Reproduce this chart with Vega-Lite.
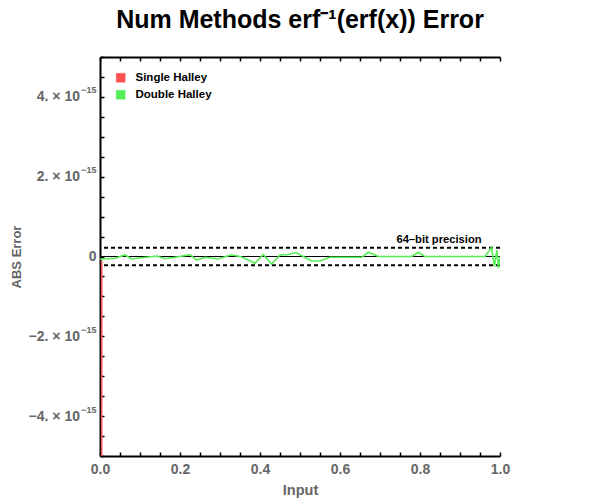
{
  "$schema": "https://vega.github.io/schema/vega-lite/v6.json",
  "width": 400,
  "height": 399,
  "autosize": "none",
  "padding": {"left": 100, "top": 57, "right": 100, "bottom": 44},
  "background": "white",
  "title": {
    "text": "Num Methods erf⁻¹(erf(x)) Error",
    "font": "Liberation Sans",
    "fontSize": 25,
    "fontWeight": "bold",
    "color": "black",
    "anchor": "middle",
    "offset": 17
  },
  "config": {
    "view": {"stroke": null},
    "axis": {
      "domainColor": "black",
      "domainWidth": 2,
      "tickColor": "black",
      "tickWidth": 1.5,
      "tickSize": -4,
      "grid": false,
      "labelFont": "Liberation Sans",
      "labelFontWeight": "bold",
      "labelFontSize": 14,
      "labelColor": "#666666",
      "labelOverlap": false,
      "labelFlush": false,
      "titleFont": "Liberation Sans",
      "titleFontWeight": "bold",
      "titleFontSize": 14,
      "titleColor": "#666666"
    }
  },
  "datasets": {
    "errors": [
      {"series": "Single Halley", "x": 0.0035, "y": -1e-13},
      {"series": "Single Halley", "x": 0.0042, "y": -1.2e-16},
      {"series": "Double Halley", "x": 0.0, "y": -7e-17},
      {"series": "Double Halley", "x": 0.0375, "y": -4.5e-17},
      {"series": "Double Halley", "x": 0.0625, "y": 3.8e-17},
      {"series": "Double Halley", "x": 0.079, "y": -6.3e-17},
      {"series": "Double Halley", "x": 0.104, "y": -3e-17},
      {"series": "Double Halley", "x": 0.142, "y": 1.3e-17},
      {"series": "Double Halley", "x": 0.1625, "y": -5.5e-17},
      {"series": "Double Halley", "x": 0.1875, "y": -2e-17},
      {"series": "Double Halley", "x": 0.225, "y": 4.5e-17},
      {"series": "Double Halley", "x": 0.242, "y": -8.8e-17},
      {"series": "Double Halley", "x": 0.2625, "y": -2e-17},
      {"series": "Double Halley", "x": 0.295, "y": -6.3e-17},
      {"series": "Double Halley", "x": 0.329, "y": 4.5e-17},
      {"series": "Double Halley", "x": 0.354, "y": -1.3e-17},
      {"series": "Double Halley", "x": 0.3875, "y": -1.71e-16},
      {"series": "Double Halley", "x": 0.408, "y": 5e-17},
      {"series": "Double Halley", "x": 0.429, "y": -1.89e-16},
      {"series": "Double Halley", "x": 0.45, "y": 3.8e-17},
      {"series": "Double Halley", "x": 0.471, "y": 5e-17},
      {"series": "Double Halley", "x": 0.49, "y": 1e-16},
      {"series": "Double Halley", "x": 0.529, "y": -1.13e-16},
      {"series": "Double Halley", "x": 0.55, "y": -1.13e-16},
      {"series": "Double Halley", "x": 0.575, "y": -2e-17},
      {"series": "Double Halley", "x": 0.654, "y": -2e-17},
      {"series": "Double Halley", "x": 0.671, "y": 1.06e-16},
      {"series": "Double Halley", "x": 0.696, "y": 0},
      {"series": "Double Halley", "x": 0.779, "y": 0},
      {"series": "Double Halley", "x": 0.796, "y": 1.06e-16},
      {"series": "Double Halley", "x": 0.8125, "y": 0},
      {"series": "Double Halley", "x": 0.9625, "y": 0},
      {"series": "Double Halley", "x": 0.979, "y": 2.3e-16},
      {"series": "Double Halley", "x": 0.986, "y": -2.57e-16},
      {"series": "Double Halley", "x": 0.992, "y": 1.6e-16},
      {"series": "Double Halley", "x": 0.996, "y": -2.9e-16},
      {"series": "Double Halley", "x": 1.0, "y": 0}
    ],
    "precision": [
      {"level": 2.22e-16},
      {"level": -2.22e-16}
    ],
    "zero": [
      {"level": 0}
    ],
    "annotation": [
      {"label": "64–bit precision"}
    ]
  },
  "layer": [
    {
      "layer": [
        {
          "data": {"name": "precision"},
          "mark": {"type": "rule", "color": "black", "strokeWidth": 2, "strokeDash": [4, 3]},
          "encoding": {
            "y": {
              "field": "level",
              "type": "quantitative",
              "scale": {"domain": [-5e-15, 5e-15], "nice": false, "zero": false},
              "axis": {
                "orient": "right",
                "values": [-5e-15, -4.5e-15, -4e-15, -3.5e-15, -3e-15, -2.5e-15, -2e-15, -1.5e-15, -1e-15, -5e-16, 0, 5e-16, 1e-15, 1.5e-15, 2e-15, 2.5e-15, 3e-15, 3.5e-15, 4e-15, 4.5e-15, 5e-15],
                "labels": false,
                "title": null
              }
            }
          }
        },
        {
          "data": {"name": "annotation"},
          "mark": {"type": "text", "font": "Liberation Sans", "fontWeight": "bold", "fontSize": 11.2, "color": "black", "align": "center", "baseline": "alphabetic"},
          "encoding": {
            "text": {"field": "label", "type": "nominal"},
            "x": {
              "datum": 0.8475,
              "type": "quantitative",
              "scale": {"domain": [0, 1], "nice": false, "zero": false},
              "axis": {
                "orient": "top",
                "values": [0, 0.05, 0.1, 0.15, 0.2, 0.25, 0.3, 0.35, 0.4, 0.45, 0.5, 0.55, 0.6, 0.65, 0.7, 0.75, 0.8, 0.85, 0.9, 0.95, 1],
                "labels": false,
                "title": null
              }
            },
            "y": {"datum": 3.4e-16, "type": "quantitative", "axis": null}
          }
        }
      ]
    },
    {
      "data": {"name": "zero"},
      "mark": {"type": "rule", "color": "black", "strokeWidth": 1.2},
      "encoding": {
        "y": {
          "field": "level",
          "type": "quantitative",
          "scale": {"domain": [-5e-15, 5e-15], "nice": false, "zero": false},
          "axis": {
            "orient": "left",
            "values": [-4e-15, -2e-15, 0, 2e-15, 4e-15],
            "labelExpr": "datum.value == 0 ? '0' : '−15'",
            "ticks": false,
            "domain": false,
            "labelPadding": 4,
            "labelFontSize": {"condition": {"test": "datum.value == 0", "value": 14}, "value": 9},
            "labelOffset": {"condition": {"test": "datum.value == 0", "value": 0}, "value": -7},
            "title": null
          }
        }
      }
    },
    {
      "data": {"name": "errors"},
      "mark": {"type": "line", "strokeWidth": 1.6, "clip": true},
      "encoding": {
        "x": {
          "field": "x",
          "type": "quantitative",
          "scale": {"domain": [0, 1], "nice": false, "zero": false},
          "axis": {
            "orient": "bottom",
            "values": [0, 0.05, 0.1, 0.15, 0.2, 0.25, 0.3, 0.35, 0.4, 0.45, 0.5, 0.55, 0.6, 0.65, 0.7, 0.75, 0.8, 0.85, 0.9, 0.95, 1],
            "labelExpr": "abs(datum.value*5 - round(datum.value*5)) < 0.001 ? format(datum.value, '.1f') : ''",
            "labelPadding": 10,
            "title": "Input",
            "titleFontSize": 14.5,
            "titlePadding": 7
          }
        },
        "y": {
          "field": "y",
          "type": "quantitative",
          "scale": {"domain": [-5e-15, 5e-15], "nice": false, "zero": false},
          "axis": {
            "orient": "left",
            "values": [-5e-15, -4.5e-15, -4e-15, -3.5e-15, -3e-15, -2.5e-15, -2e-15, -1.5e-15, -1e-15, -5e-16, 0, 5e-16, 1e-15, 1.5e-15, 2e-15, 2.5e-15, 3e-15, 3.5e-15, 4e-15, 4.5e-15, 5e-15],
            "labelExpr": "(datum.value != 0 && abs(datum.value*1e15 - round(datum.value*1e15)) < 0.01 && round(datum.value*1e15) % 2 == 0) ? (datum.value < 0 ? '−' : '') + abs(round(datum.value*1e15)) + '. × 10' : ''",
            "labelPadding": 24.5,
            "title": "ABS Error",
            "titleFontSize": 13,
            "titlePadding": 5
          }
        },
        "color": {
          "field": "series",
          "type": "nominal",
          "scale": {"domain": ["Single Halley", "Double Halley"], "range": ["#ff5050", "#55ee55"]},
          "legend": {
            "title": null,
            "orient": "top-left",
            "offset": 15,
            "padding": 0,
            "symbolType": "square",
            "symbolSize": 81,
            "labelFont": "Liberation Sans",
            "labelFontWeight": "bold",
            "labelFontSize": 11.5,
            "labelColor": "black",
            "labelOffset": 9,
            "rowPadding": 3,
            "encode": {
              "symbols": {
                "update": {
                  "fill": {"scale": "color", "field": "value"},
                  "stroke": {"value": "black"},
                  "strokeOpacity": {"value": 0.35},
                  "strokeWidth": {"value": 1},
                  "opacity": {"value": 1}
                }
              }
            }
          }
        }
      }
    }
  ],
  "resolve": {"axis": {"x": "independent", "y": "independent"}}
}
